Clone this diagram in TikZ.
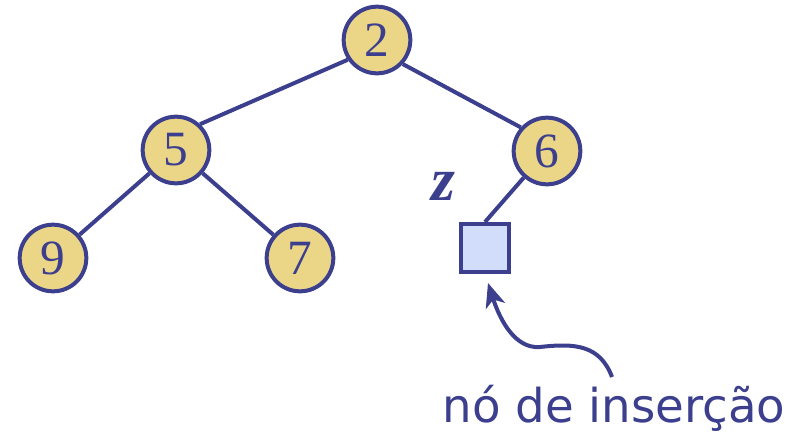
\documentclass[tikz,border=0pt]{standalone}
\usepackage{fontspec}
\setmainfont{Liberation Serif}
\newfontfamily\labelfont{DejaVu Sans}
\usetikzlibrary{arrows.meta}
\definecolor{navy}{HTML}{3C3F8E}
\definecolor{nodeyellow}{HTML}{EBD687}
\definecolor{sqblue}{HTML}{D1DDFB}
\begin{document}
\begin{tikzpicture}[x=0.75pt,y=-0.75pt,
  treenode/.style={circle,draw=navy,fill=nodeyellow,line width=3pt,minimum size=50pt,inner sep=0pt,text=navy,font=\fontsize{37}{37}\selectfont},
  leafbox/.style={rectangle,draw=navy,fill=sqblue,line width=3pt,minimum size=36pt,inner sep=0pt},
  edge/.style={draw=navy,line width=3pt},
  pointer/.style={draw=navy,line width=3pt,-{Stealth[length=18pt,width=15pt,inset=5pt]}}]
\useasboundingbox (0,0) rectangle (800,433);
\node[treenode] (n2) at (377,40) {2};
\node[treenode] (n5) at (176,150) {5};
\node[treenode] (n6) at (547,151) {6};
\node[treenode] (n9) at (53,258) {9};
\node[treenode] (n7) at (300,258) {7};
\node[leafbox] (z) at (485,248) {};
\node[text=navy,font=\fontsize{46}{46}\selectfont\bfseries\itshape] (zl) at (443,186) {z};
\node[text=navy,font=\labelfont\fontsize{35}{35}\selectfont,anchor=base] (lbl) at (614,422) {nó de inserção};
\draw[edge] (n2.214) -- (n5.47);
\draw[edge] (n2.-43) -- (n6.138);
\draw[edge] (n5) -- (n9);
\draw[edge] (n5) -- (n7);
\draw[edge] (n6) -- (z.north);
\coordinate (tail) at (612,377);
\coordinate (tip) at (488,283);
\draw[pointer] (tail) .. controls (600,345) and (575,343) .. (540,347)
  .. controls (515,349) and (500,320) .. (tip);
\end{tikzpicture}
\end{document}
